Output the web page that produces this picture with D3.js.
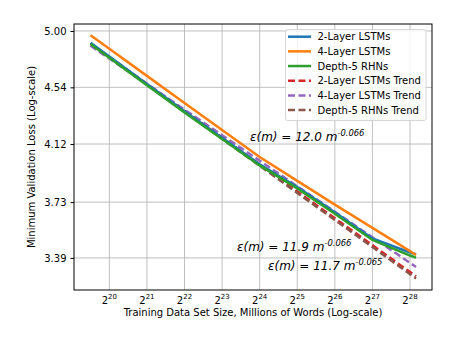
<!DOCTYPE html>
<html>
<head>
<meta charset="utf-8">
<script src="https://cdn.jsdelivr.net/npm/d3@7"></script>
<style>
  body { margin: 0; background: #fff; }
  text { font-family: "DejaVu Sans", sans-serif; fill: #000; }
</style>
</head>
<body>
<div id="chart"></div>
<script>
// training set size, as powers of two
const sizeExp = [19.5, 20, 21, 22, 23, 24, 25, 26, 27, 28, 28.16];
const lstm2Loss = [4.901, 4.787, 4.566, 4.358, 4.165, 3.980, 3.828, 3.665, 3.505, 3.422, 3.412];
const lstm4Loss = [4.963, 4.850, 4.630, 4.420, 4.220, 4.030, 3.868, 3.714, 3.569, 3.430, 3.407];
const rhnLoss   = [4.890, 4.776, 4.557, 4.349, 4.156, 3.972, 3.819, 3.656, 3.496, 3.404, 3.392];

// fitted power-law trends (straight in log-log), end points
const trendExp = [19.5, 28.16];
const lstm2Trend = [4.894, 3.285];
const lstm4Trend = [4.875, 3.338];
const rhnTrend   = [4.890, 3.273];

const xTickExp = [20, 21, 22, 23, 24, 25, 26, 27, 28];
const yTicks = [5.00, 4.54, 4.12, 3.73, 3.39];

const fitCoef = ["12.0", "11.9", "11.7"];
const fitExp = ["-0.066", "-0.066", "-0.065"];

const width = 452, height = 339;
const margin = {top: 24, right: 20, bottom: 49, left: 74};

const svg = d3.select("#chart")
  .append("svg")
    .attr("width", width)
    .attr("height", height);

const x = d3.scaleLog().base(2)
  .domain([2 ** 19.06, 2 ** 28.585])
  .range([margin.left, width - margin.right]);

const y = d3.scaleLog()
  .domain([3.209, 5.06])
  .range([height - margin.bottom, margin.top]);

// grid
svg.append("g")
  .selectAll("line")
  .data(xTickExp)
  .join("line")
    .attr("x1", d => x(2 ** d)).attr("x2", d => x(2 ** d))
    .attr("y1", margin.top).attr("y2", height - margin.bottom)
    .attr("stroke", "#b0b0b0").attr("stroke-width", 0.8);

svg.append("g")
  .selectAll("line")
  .data(yTicks)
  .join("line")
    .attr("x1", margin.left).attr("x2", width - margin.right)
    .attr("y1", d => y(d)).attr("y2", d => y(d))
    .attr("stroke", "#b0b0b0").attr("stroke-width", 0.8);

const line = d3.line()
  .x(d => x(2 ** d[0]))
  .y(d => y(d[1]));

const series = [
  {name: "2-Layer LSTMs", color: "#1f77b4", exp: sizeExp, vals: lstm2Loss, dash: null},
  {name: "4-Layer LSTMs", color: "#ff7f0e", exp: sizeExp, vals: lstm4Loss, dash: null},
  {name: "Depth-5 RHNs", color: "#2ca02c", exp: sizeExp, vals: rhnLoss, dash: null},
  {name: "2-Layer LSTMs Trend", color: "#d62728", exp: trendExp, vals: lstm2Trend, dash: "7,3.5"},
  {name: "4-Layer LSTMs Trend", color: "#9467bd", exp: trendExp, vals: lstm4Trend, dash: "7,3.5"},
  {name: "Depth-5 RHNs Trend", color: "#8c564b", exp: trendExp, vals: rhnTrend, dash: "7,3.5"}
];

const plot = svg.append("g");
// trends sit under the measured curves
const drawOrder = series.slice(3).concat(series.slice(0, 3));
plot.selectAll("path")
  .data(drawOrder)
  .join("path")
    .attr("fill", "none")
    .attr("stroke", d => d.color)
    .attr("stroke-width", 2.5)
    .attr("stroke-dasharray", d => d.dash)
    .attr("d", d => line(d.exp.map((e, i) => [e, d.vals[i]])));

// frame
svg.append("rect")
  .attr("x", margin.left).attr("y", margin.top)
  .attr("width", width - margin.left - margin.right)
  .attr("height", height - margin.top - margin.bottom)
  .attr("fill", "none").attr("stroke", "#000").attr("stroke-width", 1);

// y axis
const yAxis = svg.append("g")
  .attr("transform", `translate(${margin.left},0)`)
  .call(d3.axisLeft(y).tickValues(yTicks).tickFormat(d3.format(".2f")).tickSize(3.5).tickPadding(4));
yAxis.select(".domain").remove();
yAxis.selectAll("text").style("font-size", "10px").style("font-family", "DejaVu Sans");
yAxis.selectAll("line").attr("stroke", "#000");

// x tick labels as 2^k
const xLabels = svg.append("g")
  .selectAll("text")
  .data(xTickExp)
  .join("text")
    .attr("x", d => x(2 ** d))
    .attr("y", 304)
    .attr("text-anchor", "middle")
    .style("font-size", "10px");
xLabels.append("tspan").text("2");
xLabels.append("tspan")
  .attr("dy", -5)
  .style("font-size", "7px")
  .text(d => d);

svg.append("text")
  .attr("x", (margin.left + width - margin.right) / 2)
  .attr("y", 316)
  .attr("text-anchor", "middle")
  .style("font-size", "10px")
  .text("Training Data Set Size, Millions of Words (Log-scale)");

svg.append("text")
  .attr("transform", `translate(35,${(margin.top + height - margin.bottom) / 2}) rotate(-90)`)
  .attr("text-anchor", "middle")
  .style("font-size", "10px")
  .text("Minimum Validation Loss (Log-scale)");

// fit annotations
const notePos = [[250, 141], [237, 251], [268, 270]];
const notes = svg.append("g")
  .selectAll("text")
  .data(fitCoef)
  .join("text")
    .attr("x", (d, i) => notePos[i][0])
    .attr("y", (d, i) => notePos[i][1])
    .style("font-size", "12px")
    .style("font-style", "italic");
notes.append("tspan").text(d => `ε(m) = ${d} m`);
notes.append("tspan")
  .attr("dy", -5)
  .style("font-size", "8.4px")
  .text((d, i) => fitExp[i]);

// legend
const legend = svg.append("g").attr("transform", "translate(285.5,29.5)");
legend.append("rect")
  .attr("width", 140.5).attr("height", 91)
  .attr("rx", 2)
  .attr("fill", "#fff").attr("fill-opacity", 0.8)
  .attr("stroke", "#cccccc").attr("stroke-width", 0.8);

const items = legend.selectAll("g.item")
  .data(series)
  .join("g")
    .attr("class", "item")
    .attr("transform", (d, i) => `translate(0,${7.2 + i * 14.67})`);
items.append("line")
  .attr("x1", 2.5).attr("x2", 25.5)
  .attr("stroke", d => d.color)
  .attr("stroke-width", 2.5)
  .attr("stroke-dasharray", d => d.dash);
items.append("text")
  .attr("x", 32)
  .attr("dy", "0.35em")
  .style("font-size", "10px")
  .text(d => d.name);
</script>
</body>
</html>
